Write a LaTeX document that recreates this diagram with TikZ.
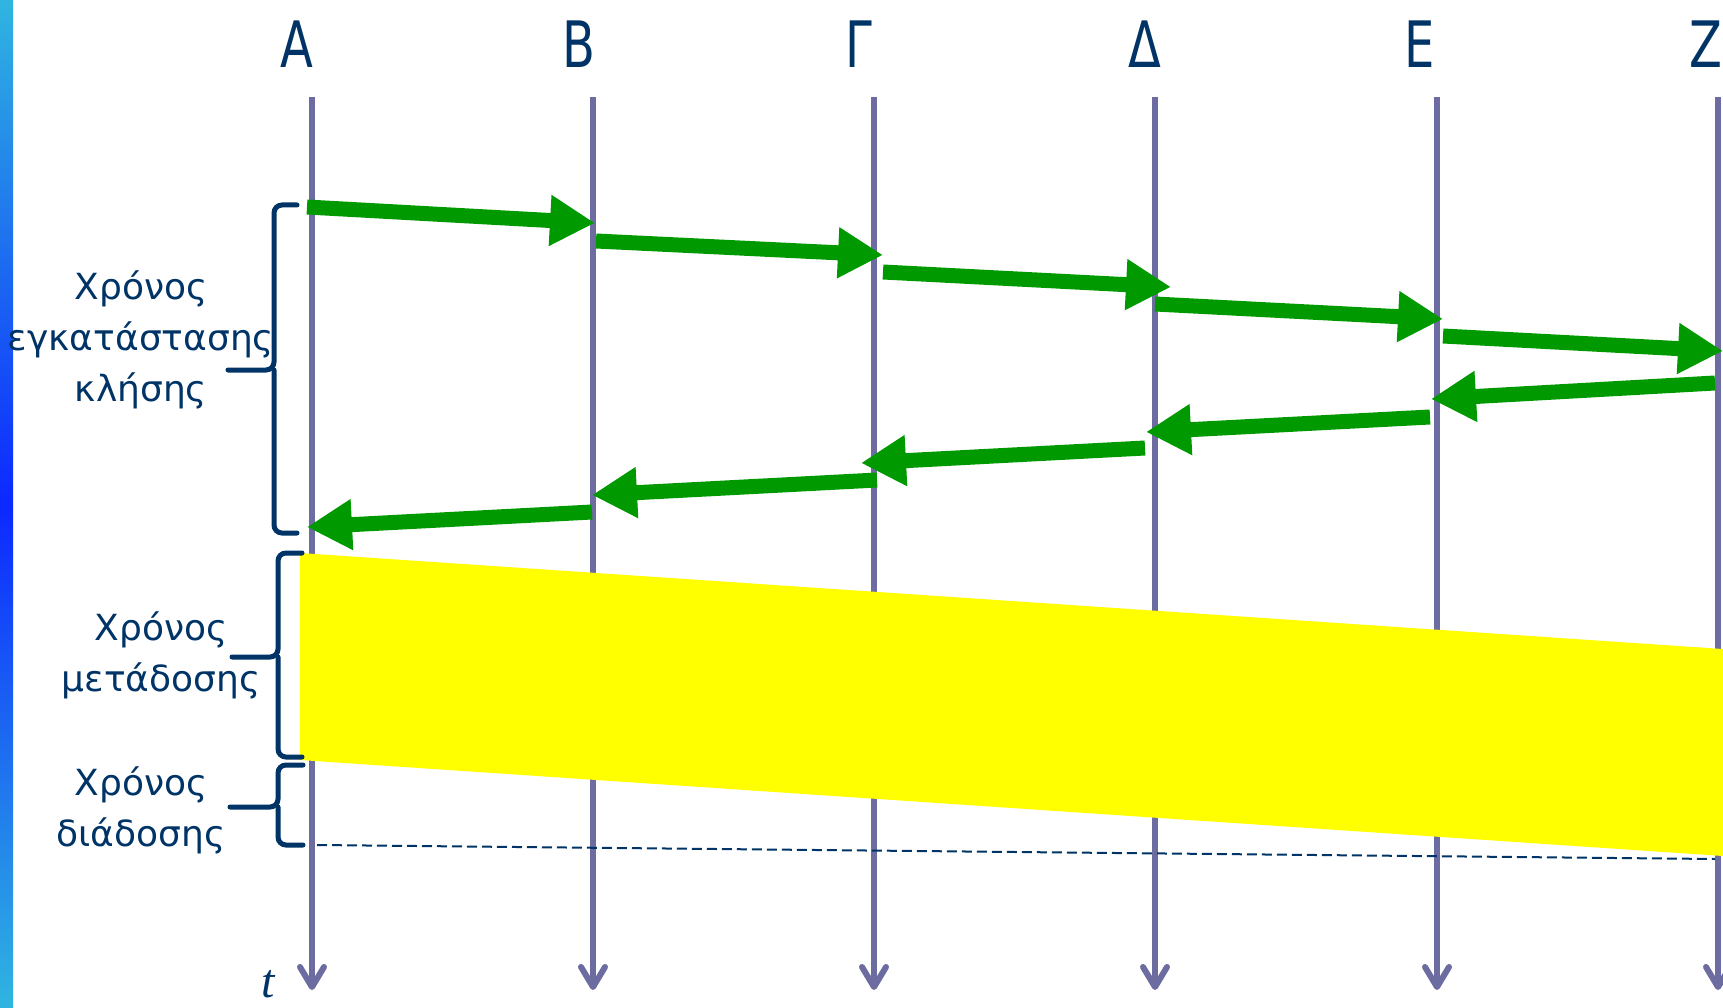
\documentclass[tikz,border=0pt]{standalone}
\usepackage{fontspec}
\setmainfont{DejaVu Sans}
\newfontfamily\tfont{Liberation Serif}
\usetikzlibrary{arrows.meta}
\definecolor{navy}{RGB}{0,51,102}
\definecolor{lifegray}{RGB}{108,108,160}
\definecolor{msggreen}{RGB}{0,153,0}
\definecolor{bandyellow}{RGB}{255,255,0}
\definecolor{barlight}{RGB}{47,181,224}
\definecolor{bardeep}{RGB}{12,40,255}
\tikzset{
  life/.style={lifegray,line width=6pt,-{Straight Barb[length=20pt,width=24pt,round]}},
  msg/.style={msggreen,line width=15pt,-{Triangle[length=45pt,width=48pt]}},
  bracket/.style={navy,line width=5pt,rounded corners=8pt,line cap=round},
  station/.style={navy,font=\fontsize{64}{64}\selectfont,inner sep=0pt,anchor=base},
  spanlabel/.style={navy,font=\fontsize{36}{51}\selectfont,align=center,inner sep=0pt},
}
\begin{document}
\begin{tikzpicture}[x=1pt,y=-1pt]
\useasboundingbox (0,0) rectangle (1723,1008);
\shade[top color=barlight,bottom color=barlight,middle color=bardeep] (0,0) rectangle (13,1008);
% stations and time lines
\foreach \n/\x/\lx/\g in {a/312/297/Α,b/593/579/Β,g/874/859/Γ,d/1155/1145/Δ,e/1437/1420/Ε,z/1718/1706/Ζ}{
  \node[station] (\n) at (\lx,68) {\scalebox{0.75}[1]{\g}};
  \coordinate (\n top) at (\x,97);
  \coordinate (\n bot) at (\x,990);
  \draw[life] (\n top) -- (\n bot);
}
% transmission
\fill[bandyellow] (300,553) -- (1723,649) -- (1723,856) -- (300,760) -- cycle;
\coordinate (dash0) at (317,845);
\coordinate (dash1) at (1715,859);
\draw[navy,line width=2pt,dash pattern=on 10pt off 5pt] (dash0) -- (dash1);
% call setup messages
\foreach \i/\sx/\sy/\ex/\ey in {1/307/207/595/223,2/596/241/883/255,3/883/272/1171/287,4/1155/304/1443/319,5/1443/336/1723/351,
  6/1715/383/1431/399,7/1430/417/1146/432,8/1145/448/861/463,9/877/480/592/495,10/592/512/307/527}{
  \coordinate (m\i s) at (\sx,\sy);
  \coordinate (m\i e) at (\ex,\ey);
  \draw[msg] (m\i s) -- (m\i e);
}
% brackets
\draw[bracket] (297,205) -- (274,205) -- (274,370) -- (228,370);
\draw[bracket] (274,370) -- (274,533) -- (297,533);
\draw[bracket] (302,553) -- (278,553) -- (278,657) -- (232,657);
\draw[bracket] (278,657) -- (278,757) -- (302,757);
\draw[bracket] (303,765) -- (278,765) -- (278,807) -- (230,807);
\draw[bracket] (278,807) -- (278,845) -- (303,845);
\node[spanlabel] (setup) at (141,340) {Χρόνος\\εγκατάστασης\\κλήσης};
\node[spanlabel] (trans) at (161,655) {Χρόνος\\μετάδοσης};
\node[spanlabel] (prop) at (141,810) {Χρόνος\\διάδοσης};
\node[navy,font=\tfont\itshape\fontsize{48}{48}\selectfont,anchor=base,inner sep=0pt] (t) at (268,997) {t};
\end{tikzpicture}
\end{document}
